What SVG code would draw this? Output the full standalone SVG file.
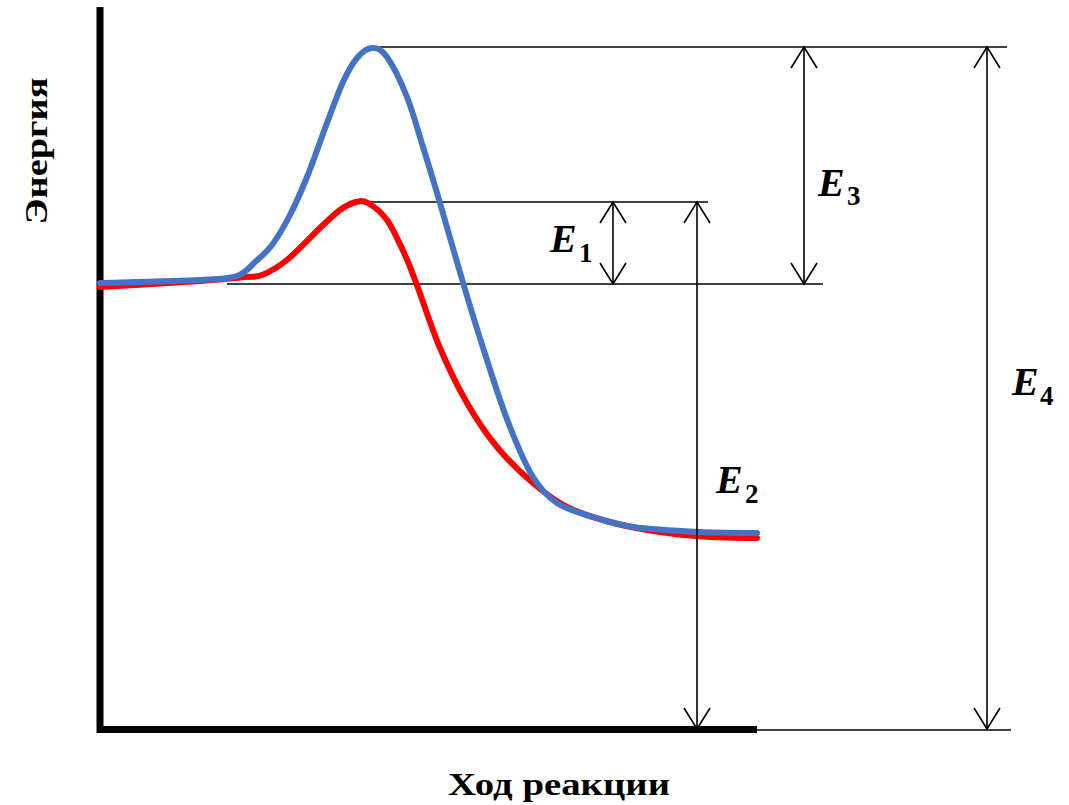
<svg xmlns="http://www.w3.org/2000/svg" width="1069" height="805" viewBox="0 0 1069 805">
<style>
.thin{stroke:#000;stroke-width:1.6;fill:none}
.arr{stroke:#000;stroke-width:1.6;fill:none;marker-start:url(#v);marker-end:url(#v)}
.axis{stroke:#000;stroke-width:7;fill:none}
.curve{fill:none;stroke-width:6;stroke-linecap:round;stroke-linejoin:round}
.E{font-family:"Liberation Serif",serif;font-weight:bold;font-style:italic;font-size:40px;fill:#000}
.sub{font-family:"Liberation Serif",serif;font-weight:bold;font-size:27px;fill:#000}
.lbl{font-family:"Liberation Serif",serif;font-weight:bold;font-size:32px;fill:#000}
</style>
<defs>
<marker id="v" viewBox="-23 -15 26 30" refX="0" refY="0" markerWidth="26" markerHeight="30" markerUnits="userSpaceOnUse" orient="auto-start-reverse">
<path d="M-21,-13 L0,0 L-21,13" fill="none" stroke="#000" stroke-width="1.6"/>
</marker>
</defs>
<rect width="1069" height="805" fill="#fff"/>
<g id="axes">
<line class="axis" x1="100" y1="7" x2="100" y2="733"/>
<line class="axis" x1="97" y1="729.5" x2="757" y2="729.5"/>
</g>
<g id="levels">
<line class="thin" x1="370" y1="47" x2="1007" y2="47"/>
<line class="thin" x1="355" y1="202" x2="708" y2="202"/>
<line class="thin" x1="227" y1="284" x2="823" y2="284"/>
<line class="thin" x1="757" y1="730" x2="1011" y2="730"/>
</g>
<g id="curve-red">
<path class="curve" stroke="#FF0000" d="M100,287 C116.7,286 175.8,282.7 200,281 C224.2,279.3 234.7,278 245,277 C255.3,276 255,277.8 262,275 C269,272.2 277.3,267.8 287,260 C296.7,252.2 311.2,236.3 320,228 C328.8,219.7 334,214.3 340,210 C346,205.7 351.3,203.2 356,202 C360.7,200.8 362.8,200 368,203 C373.2,206 380.8,211.3 387,220 C393.2,228.7 399.8,243.7 405,255 C410.2,266.3 412.2,272.5 418,288 C423.8,303.5 431.8,328.8 440,348 C448.2,367.2 457.5,386.5 467,403 C476.5,419.5 486,433.7 497,447 C508,460.3 521.3,473 533,483 C544.7,493 554.2,500.5 567,507 C579.8,513.5 594.5,517.8 610,522 C625.5,526.2 643.3,529.5 660,532 C676.7,534.5 693.8,536 710,537 C726.2,538 749.2,537.8 757,538"/>
</g>
<g id="curve-blue">
<path class="curve" stroke="#4472C4" d="M100,283 C116.7,282.5 177.2,281.2 200,280 C222.8,278.8 227.8,279 237,276 C246.2,273 249.2,267.2 255,262 C260.8,256.8 266.2,252.8 272,245 C277.8,237.2 284.2,226.3 290,215 C295.8,203.7 300.8,192.3 307,177 C313.2,161.7 321,138.8 327,123 C333,107.2 338,92.8 343,82 C348,71.2 352.2,63.7 357,58 C361.8,52.3 367,48.2 372,48 C377,47.8 381.2,48.8 387,57 C392.8,65.2 401,82 407,97 C413,112 417.5,129.3 423,147 C428.5,164.7 433.2,179.8 440,203 C446.8,226.2 456.2,259.8 464,286 C471.8,312.2 479.3,336.5 487,360 C494.2,382.8 502.3,407.5 510,427 C517.7,446.5 525.2,464.3 533,477 C540.8,489.7 547,496.3 557,503 C567,509.7 580.3,513 593,517 C605.7,521 615.2,524.5 633,527 C650.8,529.5 679.3,531 700,532 C720.7,533 747.5,532.8 757,533"/>
</g>
<g id="connectors">
<line class="arr" x1="613" y1="202" x2="613" y2="284"/>
<line class="arr" x1="804" y1="47" x2="804" y2="284"/>
<line class="arr" x1="697" y1="202" x2="697" y2="729"/>
<line class="arr" x1="987" y1="47" x2="987" y2="729"/>
</g>
<g id="label-E1"><text class="E" x="550" y="252">E</text><text class="sub" x="579" y="262">1</text></g>
<g id="label-E3"><text class="E" x="818" y="196">E</text><text class="sub" x="847" y="205">3</text></g>
<g id="label-E2"><text class="E" x="716" y="493">E</text><text class="sub" x="745" y="503">2</text></g>
<g id="label-E4"><text class="E" x="1012" y="395">E</text><text class="sub" x="1040" y="405">4</text></g>
<g id="label-y"><text class="lbl" transform="translate(47,151) rotate(-90)" text-anchor="middle" textLength="147" lengthAdjust="spacingAndGlyphs">Энергия</text></g>
<g id="label-x"><text class="lbl" x="448" y="795" textLength="222" lengthAdjust="spacingAndGlyphs">Ход реакции</text></g>
</svg>
